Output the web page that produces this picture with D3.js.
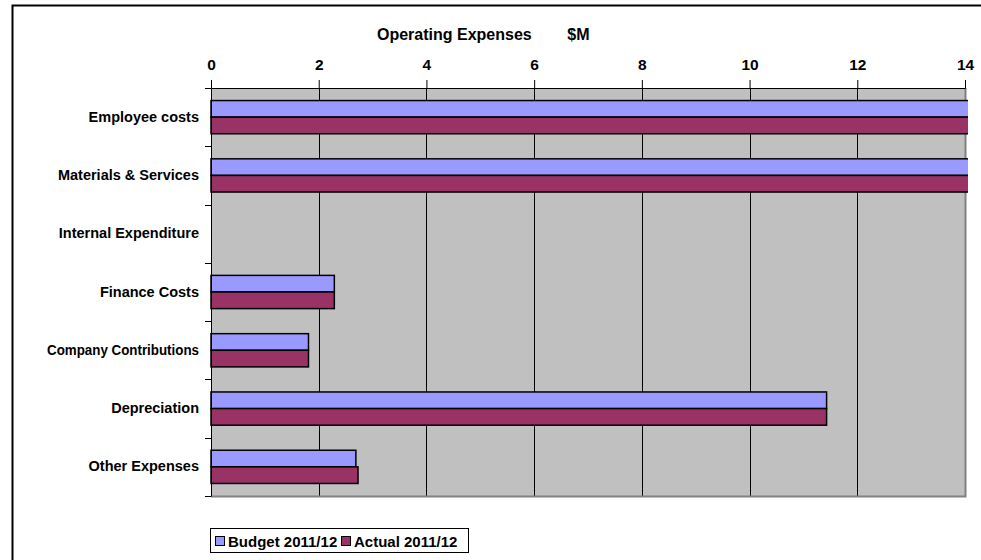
<!DOCTYPE html>
<html>
<head>
<meta charset="utf-8">
<script src="https://cdn.jsdelivr.net/npm/d3@7"></script>
<style>
  body { margin: 0; background: #fff; }
  svg text { font-family: Arial, "Liberation Sans", sans-serif; font-weight: bold; fill: #000; }
</style>
</head>
<body>
<script>
var categories = ["Employee costs", "Materials & Services", "Internal Expenditure",
                  "Finance Costs", "Company Contributions", "Depreciation", "Other Expenses"];
var budget = [17.4, 15.8, 0, 2.29, 1.81, 11.43, 2.69];
var actual = [17.9, 16.3, 0, 2.29, 1.81, 11.43, 2.73];
var seriesNames = ["Budget 2011/12", "Actual 2011/12"];
var tickValues = [0, 2, 4, 6, 8, 10, 12, 14];

var colours = ["#9999FF", "#993366"];

var W = 981, H = 560;
var margin = { top: 88, left: 211, right: 16, bottom: 64 };
var width = W - margin.left - margin.right,
    height = H - margin.top - margin.bottom;

var svg = d3.select("body").append("svg")
    .attr("width", W).attr("height", H);

// outer chart border
svg.append("rect")
    .attr("x", 12.5).attr("y", 5.5)
    .attr("width", W).attr("height", H)
    .attr("fill", "none").attr("stroke", "#000").attr("stroke-width", 2);

svg.append("text")
    .attr("x", 377).attr("y", 40)
    .attr("font-size", 16)
    .attr("xml:space", "preserve")
    .text("Operating Expenses        $M");

var x = d3.scaleLinear().domain([0, 14]).range([0, 754]);
var y = d3.scaleBand().domain(categories).range([0, height]).paddingInner(0.43).paddingOuter(0.215);

var g = svg.append("g").attr("transform", "translate(" + margin.left + "," + margin.top + ")");

g.append("rect")
    .attr("width", x(14)).attr("height", height)
    .attr("fill", "#C0C0C0");

// vertical grid lines
g.selectAll("line.grid")
    .data(tickValues.slice(1, -1))
    .enter().append("line")
    .attr("class", "grid")
    .attr("x1", function(d) { return Math.round(x(d)) + 0.5; })
    .attr("x2", function(d) { return Math.round(x(d)) + 0.5; })
    .attr("y1", 0).attr("y2", height)
    .attr("stroke", "#000");

// plot border right/bottom
g.append("path")
    .attr("d", "M" + (x(14) + 0.5) + ",0V" + (height + 0.5) + "H0")
    .attr("fill", "none").attr("stroke", "#808080").attr("stroke-width", 2);

g.append("clipPath").attr("id", "clip")
    .append("rect").attr("x", -1).attr("y", -1).attr("width", x(14) + 4).attr("height", height + 2);

var bh = y.bandwidth() / 2;
var bars = g.append("g").attr("clip-path", "url(#clip)");
[budget, actual].forEach(function(series, si) {
  bars.selectAll("rect.s" + si)
    .data(series)
    .enter().append("rect")
    .attr("class", "s" + si)
    .attr("x", 0)
    .attr("y", function(d, i) { return y(categories[i]) + si * bh; })
    .attr("width", function(d) { return x(d); })
    .attr("height", bh)
    .attr("fill", colours[si])
    .attr("stroke", "#000")
    .attr("stroke-width", function(d) { return d > 0 ? 1.5 : 0; });
});

// top axis
var xAxis = d3.axisTop(x).tickValues(tickValues).tickSize(8).tickPadding(10);
var ax = g.append("g").call(xAxis);
ax.select(".domain").attr("stroke", "#000");
ax.selectAll(".tick text").attr("font-size", 15.5);

// left axis with ticks between categories
var yAxis = d3.axisLeft(y).tickSize(0).tickPadding(12);
var ay = g.append("g").call(yAxis);
ay.select(".domain").attr("stroke", "#000");
ay.selectAll(".tick text").attr("font-size", 14.5)
  .each(function() {
    // keep long labels within the space left of the axis
    var w = this.getComputedTextLength();
    if (w > 152) d3.select(this).attr("textLength", 152).attr("lengthAdjust", "spacingAndGlyphs");
  });
var step = y.step();
g.selectAll("line.ytick")
    .data(d3.range(0, categories.length + 1))
    .enter().append("line")
    .attr("class", "ytick")
    .attr("x1", -6).attr("x2", 0)
    .attr("y1", function(d) { return Math.round(d * step) + 0.5; })
    .attr("y2", function(d) { return Math.round(d * step) + 0.5; })
    .attr("stroke", "#000");

// legend
var lg = svg.append("g").attr("transform", "translate(210,528)");
lg.append("rect").attr("x", 0.5).attr("y", 0.5).attr("width", 258).attr("height", 24)
    .attr("fill", "#fff").attr("stroke", "#000");
var lx = [5, 131];
seriesNames.forEach(function(name, i) {
  lg.append("rect").attr("x", lx[i] + 0.5).attr("y", 8.5).attr("width", 9).attr("height", 9)
      .attr("fill", colours[i]).attr("stroke", "#000");
  lg.append("text").attr("x", lx[i] + 13).attr("y", 18.5).attr("font-size", 15).text(name);
});
</script>
</body>
</html>
